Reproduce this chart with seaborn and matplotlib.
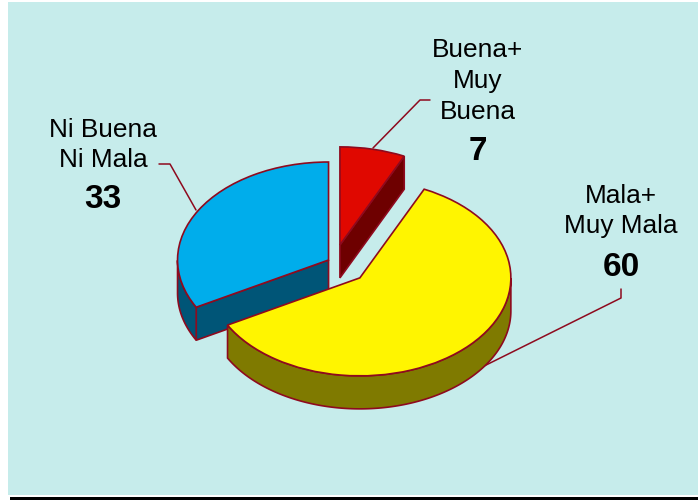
import numpy as np
import matplotlib
matplotlib.use("Agg")
import matplotlib.pyplot as plt
from matplotlib.patches import Polygon, Rectangle
from matplotlib.lines import Line2D
from matplotlib.transforms import Affine2D
import seaborn as sns

categories = ["Buena+\nMuy\nBuena", "Mala+\nMuy Mala", "Ni Buena\nNi Mala"]
values = [7, 60, 33]
explode = [0.18, 0.235, 0.042]
top_colors = ["#E00800", "#FFF500", "#00ADEB"]
side_colors = ["#6E0000", "#7F7A00", "#005577"]
edge = "#8E0A1E"

sns.set_theme(style="white")
plt.rcParams["font.family"] = ["Liberation Sans", "DejaVu Sans"]

W, H = 698, 500
fig = plt.figure(figsize=(W / 100, H / 100), dpi=100, facecolor="white")
px = Affine2D().scale(1 / W, -1 / H).translate(0, 1) + fig.transFigure

fig.add_artist(Rectangle((8, 2), W - 8, 493, transform=px, fc="#C6ECEB", ec="none", zorder=-5))
fig.add_artist(Rectangle((10, 496.5), W - 10, 3.5, transform=px, fc="black", ec="none", zorder=-5))

ax = fig.add_axes([0, 0, 1, 1])
ax.patch.set_alpha(0)
wedges, _ = ax.pie(values, explode=explode, startangle=90, counterclock=False,
                   colors=sns.color_palette(top_colors),
                   wedgeprops=dict(edgecolor=edge, linewidth=1.2))

RX, RY, CX, CY, DEPTH = 151, 98, 334, 262.1, 33
ax.set_aspect("auto")
ax.set_xlim(-CX / RX, (W - CX) / RX)
ax.set_ylim((CY - H) / RY, CY / RY)
ax.axis("off")
d = DEPTH / RY

# draw order: back slice first, front slice last
order = {0: 1, 2: 2, 1: 3}
for i, w in enumerate(wedges):
    z = order[i] * 10
    w.set_zorder(z + 2)
    cx, cy = w.center
    r = w.r
    # flat cut faces
    for th, sign in ((w.theta1, -90), (w.theta2, 90)):
        if np.sin(np.radians(th + sign)) < -1e-6:
            ex = cx + r * np.cos(np.radians(th))
            ey = cy + r * np.sin(np.radians(th))
            ax.add_patch(Polygon([(cx, cy), (ex, ey), (ex, ey - d), (cx, cy - d)],
                                 fc=side_colors[i], ec=edge, lw=1.2, zorder=z))
    # curved outer wall
    ang = np.radians(np.linspace(w.theta1, w.theta2, 400))
    ang = ang[np.sin(ang) <= 0]
    if len(ang) > 1:
        xs = cx + r * np.cos(ang)
        ys = cy + r * np.sin(ang)
        pts = np.r_[np.c_[xs, ys], np.c_[xs, ys - d][::-1]]
        ax.add_patch(Polygon(pts, fc=side_colors[i], ec=edge, lw=1.2, zorder=z + 1))

leaders = [
    ([373, 420, 430], [148, 100, 100]),
    ([470, 621, 621], [373, 298, 289]),
    ([196, 170, 159], [210, 164, 164]),
]
for lx, ly in leaders:
    fig.add_artist(Line2D(lx, ly, transform=px, color=edge, lw=1.1, zorder=-1))

name_pos = [(478, 81), (621, 211), (103, 145)]
num_pos = [(478, 152), (621, 267), (103, 200)]
for name, v, (nx, ny), (vx, vy) in zip(categories, values, name_pos, num_pos):
    fig.text(nx, ny, name, transform=px, ha="center", va="center",
             fontsize=18.9, color="black", linespacing=1.35)
    fig.text(vx, vy, str(v), transform=px, ha="center", va="center",
             fontsize=24, fontweight="bold", color="black")

fig.savefig("out.png", dpi=100, facecolor="white")
